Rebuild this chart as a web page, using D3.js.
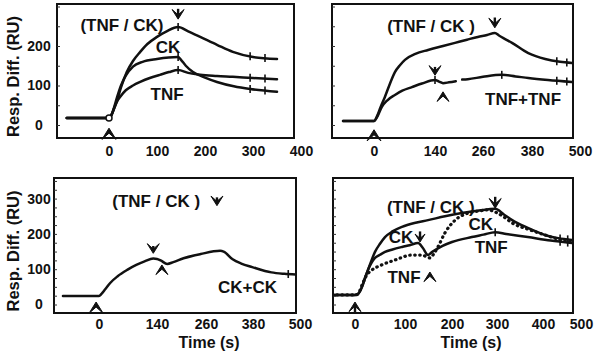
<!DOCTYPE html>
<html><head><meta charset="utf-8">
<script src="https://cdn.jsdelivr.net/npm/d3@7"></script>
<style>
html,body{margin:0;padding:0;background:#fff;}
svg{display:block;font-family:"Liberation Sans",Arial,Helvetica,sans-serif;font-weight:bold;}
</style></head><body>
<svg id="c" width="597" height="351"></svg>
<script>
// ---------------- DATA ----------------
// Panel 1 (top-left): time (s), response (RU)
const p1TnfCk = [[-88,18],[0,18],[5,25],[10,40],[17,63],[25,95],[37,134],[50,162],[65,185],[80,205],[100,223],[120,237],[144,248],[165,237],[190,223],[225,203],[258,185],[300,172],[350,167]];
const p1Ck    = [[-88,18],[0,18],[5,25],[10,42],[17,71],[25,100],[35,125],[50,148],[70,160],[100,167],[144,172],[150,165],[160,150],[175,134],[200,120],[225,109],[260,98],[294,91],[350,84]];
const p1Tnf   = [[-88,18],[0,18],[5,25],[10,40],[17,60],[23,71],[35,88],[50,100],[65,109],[85,119],[106,127],[125,134],[144,139],[165,132],[190,127],[225,124],[258,122],[300,119],[350,116]];
const p1Markers = [144,294,325];
const p1XTicks = [0,100,200,300,400];
const p1YTicks = [0,100,200];

// Panel 2 (top-right)
const p2TnfCk  = [[-71,10],[0,10],[8,25],[15,45],[25,71],[35,100],[48,134],[60,152],[71,165],[95,180],[124,190],[160,200],[190,208],[220,216],[247,223],[270,228],[289,233],[300,226],[310,220],[331,208],[371,182],[413,167],[450,160],[480,157]];
const p2TnfTnf = [[-71,10],[0,10],[8,22],[18,46],[30,62],[48,76],[65,87],[87,96],[110,105],[140,114],[150,110],[160,106],[175,108],[192,111],[196,null],[208,115],[222,116],[260,122],[306,127],[340,123],[371,119],[420,114],[480,109]];
const p2Markers = [140,306,442,467];
const p2XTicks = [0,140,260,380,500];

// Panel 3 (bottom-left)
const p3CkCk = [[-87,24],[0,24],[6,30],[15,43],[27,61],[45,80],[68,98],[90,112],[110,122],[131,130],[140,129],[150,124],[165,115],[180,120],[205,131],[247,143],[296,152],[305,150],[328,128],[350,116],[378,106],[427,91],[460,87],[489,85]];
const p3Markers = [470];
const p3XTicks = [0,140,260,380,500];
const p3YTicks = [0,100,200,300];

// Panel 4 (bottom-right)
const p4TnfCk = [[-46,27],[0,27],[6,30],[14,50],[20,75],[26,98],[33,125],[40,149],[50,172],[60,191],[75,207],[94,220],[120,231],[149,239],[185,250],[222,259],[260,266],[296,271],[315,255],[333,239],[367,217],[405,197],[440,188],[476,183]];
const p4CkTnf = [[-46,27],[0,27],[6,30],[14,50],[20,75],[26,98],[33,118],[40,132],[50,141],[60,149],[75,156],[94,163],[110,168],[128,174],[138,160],[149,140],[156,147],[164,154],[180,166],[200,177],[244,191],[270,198],[296,205],[320,200],[367,191],[420,181],[476,174]];
const p4TnfCkDotted = [[-46,27],[0,27],[6,30],[14,55],[22,80],[34,98],[50,110],[80,126],[115,140],[136,140],[153,132],[162,145],[170,163],[185,203],[207,239],[236,259],[260,265],[280,268],[296,262],[315,248],[333,231],[370,212],[405,197],[440,185],[476,177]];
const p4Markers = [445,465];
const p4XTicks = [0,100,200,300,400,500];

// ---------------- LAYOUT ----------------
const svg = d3.select("#c");
const frames = {
  p1:{x0:57,x1:294,y0:4,y1:138},
  p2:{x0:332,x1:573,y0:4,y1:138},
  p3:{x0:54,x1:296,y0:178,y1:313},
  p4:{x0:333,x1:573,y0:178,y1:313}
};
const x1 = d3.scaleLinear().domain([0,400]).range([109,301]);
const x2 = d3.scaleLinear().domain([0,140,260,380,500]).range([374,435,483,532,580]);
const x3 = d3.scaleLinear().domain([0,140,260,380,500]).range([99,157,206,253,300]);
const x4 = d3.scaleLinear().domain([0,100,200,300,400,500]).range([355,405,452,497,543,581]);
const yTop = d3.scaleLinear().domain([0,200]).range([125,46]);
const yBot = d3.scaleLinear().domain([0,300]).range([304.5,198.6]);

const defs = svg.append("defs");
Object.entries(frames).forEach(([k,f])=>{
  defs.append("clipPath").attr("id","clip-"+k).append("rect")
    .attr("x",f.x0).attr("y",f.y0).attr("width",f.x1-f.x0).attr("height",f.y1-f.y0);
});

function frame(f){
  svg.append("rect").attr("x",f.x0).attr("y",f.y0).attr("width",f.x1-f.x0).attr("height",f.y1-f.y0)
    .attr("fill","none").attr("stroke","#111").attr("stroke-width",2);
}
function valueAt(data,t){
  const pts=data.filter(d=>d[1]!=null);
  for(let i=1;i<pts.length;i++){
    if(t<=pts[i][0]){const a=pts[i-1],b=pts[i];return a[1]+(b[1]-a[1])*(t-a[0])/(b[0]-a[0]);}
  }
  return pts[pts.length-1][1];
}
function curve(key,data,xs,ys,dotted,markers){
  const line=d3.line().defined(d=>d[1]!=null).x(d=>xs(d[0])).y(d=>ys(d[1])).curve(d3.curveMonotoneX);
  const g=svg.append("g").attr("clip-path","url(#clip-"+key+")");
  const p=g.append("path").datum(data).attr("d",line).attr("fill","none").attr("stroke","#111")
    .attr("stroke-linejoin","round");
  if(dotted){p.attr("stroke-width",3.2).attr("stroke-dasharray","0.5,4.5").attr("stroke-linecap","round");}
  else{p.attr("stroke-width",2.5).attr("stroke-linecap","round");}
  (markers||[]).forEach(t=>{
    const X=xs(t),Y=ys(valueAt(data,t));
    g.append("line").attr("x1",X).attr("x2",X).attr("y1",Y-4).attr("y2",Y+4).attr("stroke","#111").attr("stroke-width",1.6);
  });
}
function arrow(x,y,dir,stem,size){
  const w=size||6,h=(size||6)*1.6,s=dir==="down"?-1:1;
  svg.append("path").attr("d",`M${x-w},${y+s*h} L${x},${y} L${x+w},${y+s*h} L${x},${y+s*h*0.45} Z`)
    .attr("fill","#111").attr("stroke","#111").attr("stroke-width",1).attr("stroke-linejoin","round");
  if(stem){
    svg.append("line").attr("x1",x).attr("x2",x).attr("y1",y+s*3).attr("y2",y+s*(h*0.45+stem)).attr("stroke","#111").attr("stroke-width",2.4);
  }
}
function label(txt,x,y,size){
  svg.append("text").attr("x",x).attr("y",y).attr("text-anchor","middle").attr("font-size",size||17).attr("fill","#111").text(txt);
}
function xAxis(xs,f,ticks,pad){
  const g=svg.append("g").attr("transform",`translate(0,${f.y1})`)
    .call(d3.axisBottom(xs).tickValues(ticks).tickSize(0).tickPadding(pad).tickFormat(d3.format("d")));
  g.select(".domain").remove();
  g.selectAll("text").attr("font-size",14).attr("font-family",null).attr("fill","#111");
}
function yAxis(ys,f,ticks,minor,showLabels){
  if(showLabels){
    const g=svg.append("g").attr("transform",`translate(${f.x0},0)`)
      .call(d3.axisLeft(ys).tickValues(ticks).tickSize(0).tickPadding(0));
    g.select(".domain").remove();
    g.selectAll("text").attr("font-size",14).attr("font-family",null).attr("fill","#111")
      .attr("text-anchor","middle").attr("x",39-f.x0);
  }
  const gm=svg.append("g").attr("transform",`translate(${f.x0},0)`)
    .call(d3.axisLeft(ys).tickValues(minor.filter(v=>ys(v)>f.y0+2&&ys(v)<f.y1-2)).tickSize(-3).tickFormat(""));
  gm.select(".domain").remove();
  gm.selectAll("line").attr("stroke","#333").attr("stroke-width",1);
}

// ---------------- PANEL 1 ----------------
frame(frames.p1);
yAxis(yTop,frames.p1,p1YTicks,d3.range(-50,301,50),true);
xAxis(x1,frames.p1,p1XTicks,8);
curve("p1",p1TnfCk,x1,yTop,false,p1Markers);
curve("p1",p1Ck,x1,yTop,false,p1Markers);
curve("p1",p1Tnf,x1,yTop,false,p1Markers);
svg.append("circle").attr("cx",x1(0)).attr("cy",yTop(18)).attr("r",3).attr("fill","#fff").attr("stroke","#111").attr("stroke-width",1.5);
arrow(x1(144),yTop(268),"down",6,6);
arrow(x1(0),yTop(-8),"up",0,7);
label("(TNF / CK)",x1(27),yTop(238));
label("CK",x1(123),yTop(182));
label("TNF",x1(121),yTop(63));

// ---------------- PANEL 2 ----------------
frame(frames.p2);
yAxis(yTop,frames.p2,[],d3.range(-50,301,50),false);
xAxis(x2,frames.p2,p2XTicks,8);
curve("p2",p2TnfCk,x2,yTop,false,[442,467]);
curve("p2",p2TnfTnf,x2,yTop,false,p2Markers);
arrow(x2(289),yTop(246),"down",6,6);
arrow(x2(140),yTop(126),"down",4,6);
arrow(x2(160),yTop(84),"up",0,6);
arrow(x2(0),yTop(-12),"up",0,7);
label("(TNF / CK )",x2(131),yTop(235));
label("TNF+TNF",x2(358),yTop(51));

// ---------------- PANEL 3 ----------------
frame(frames.p3);
yAxis(yBot,frames.p3,p3YTicks,d3.range(-25,376,25),true);
xAxis(x3,frames.p3,p3XTicks,6);
curve("p3",p3CkCk,x3,yBot,false,p3Markers);
arrow(x3(131),yBot(145),"down",3,6);
arrow(x3(152),yBot(112),"up",0,6);
arrow(x3(-7),yBot(7),"up",0,7);
arrow(x3(288),yBot(280),"down",4,6);
label("(TNF / CK )",x3(138),yBot(276));
label("CK+CK",x3(366),yBot(33));

// ---------------- PANEL 4 ----------------
frame(frames.p4);
yAxis(yBot,frames.p4,[],d3.range(-25,376,25),false);
xAxis(x4,frames.p4,p4XTicks,6);
curve("p4",p4TnfCk,x4,yBot,false,p4Markers);
curve("p4",p4CkTnf,x4,yBot,false,[296].concat(p4Markers));
curve("p4",p4TnfCkDotted,x4,yBot,true,[]);
arrow(x4(0),yBot(7),"up",7,6);
arrow(x4(132),yBot(177),"down",7,5);
arrow(x4(153),yBot(92),"up",0,6);
arrow(x4(296),yBot(273),"down",7,6);
label("(TNF / CK )",x4(155),yBot(259));
label("CK",x4(92),yBot(174));
label("TNF",x4(98),yBot(61));
label("CK",x4(264),yBot(211));
label("TNF",x4(287),yBot(146));

// ---------------- AXIS TITLES ----------------
[[19,76.5],[19,251]].forEach(([x,y])=>{
  svg.append("text").attr("transform",`translate(${x},${y}) rotate(-90)`).attr("text-anchor","middle")
    .attr("font-size",16.5).attr("fill","#111").text("Resp. Diff. (RU)");
});
svg.append("text").attr("x",209).attr("y",348).attr("text-anchor","middle").attr("font-size",16).attr("fill","#111").text("Time (s)");
svg.append("text").attr("x",471).attr("y",348).attr("text-anchor","middle").attr("font-size",16).attr("fill","#111").text("Time (s)");
</script></body></html>
